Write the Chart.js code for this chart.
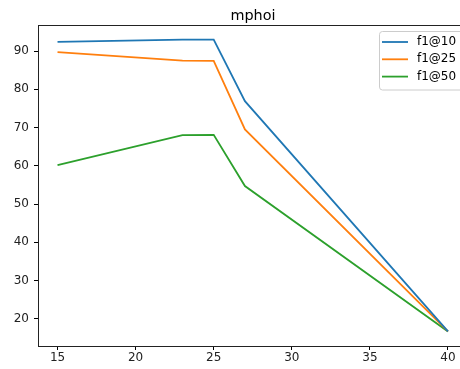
<!DOCTYPE html>
<html>
<head>
<meta charset="utf-8">
<script src="https://cdn.jsdelivr.net/npm/chart.js@4.4.0/dist/chart.umd.min.js"></script>
<style>
html,body{margin:0;padding:0;background:#fff;}
#wrap{width:460px;height:369px;position:relative;}
</style>
</head>
<body>
<div id="wrap"><canvas id="c" width="460" height="369"></canvas></div>
<script>
const title = 'mphoi';
const xValues = [15, 23, 25, 27, 40];
const f1at10 = [92.4, 93.0, 93.0, 76.9, 16.7];
const f1at25 = [89.7, 87.5, 87.4, 69.5, 16.7];
const f1at50 = [60.2, 68.0, 68.1, 54.7, 16.7];
const seriesLabels = ['f1@10', 'f1@25', 'f1@50'];
const xTicks = [15, 20, 25, 30, 35, 40];
const yTicks = [20, 30, 40, 50, 60, 70, 80, 90];

const colors = ['#1f77b4', '#ff7f0e', '#2ca02c'];
const FONT = "'DejaVu Sans', sans-serif";

function pts(ys) { return xValues.map((x, i) => ({x: x, y: ys[i]})); }

const frame = {
  id: 'frame',
  afterDraw(chart) {
    const {ctx, chartArea: a} = chart;
    ctx.save();
    // top spine
    ctx.strokeStyle = '#222';
    ctx.lineWidth = 1;
    ctx.beginPath();
    ctx.moveTo(a.left, Math.round(a.top) + 0.5);
    ctx.lineTo(a.right, Math.round(a.top) + 0.5);
    ctx.stroke();
    // title
    ctx.fillStyle = '#000';
    ctx.font = '14.4px ' + FONT;
    ctx.textAlign = 'center';
    ctx.textBaseline = 'alphabetic';
    ctx.fillText(title, 253, 19.5);
    // legend
    const bx = 379.5, by = 31.5, bw = 90, bh = 58.5, r = 3;
    ctx.fillStyle = 'rgba(255,255,255,0.8)';
    ctx.strokeStyle = '#cccccc';
    ctx.lineWidth = 1;
    ctx.beginPath();
    ctx.moveTo(bx + r, by);
    ctx.lineTo(bx + bw - r, by);
    ctx.arcTo(bx + bw, by, bx + bw, by + r, r);
    ctx.lineTo(bx + bw, by + bh - r);
    ctx.arcTo(bx + bw, by + bh, bx + bw - r, by + bh, r);
    ctx.lineTo(bx + r, by + bh);
    ctx.arcTo(bx, by + bh, bx, by + bh - r, r);
    ctx.lineTo(bx, by + r);
    ctx.arcTo(bx, by, bx + r, by, r);
    ctx.closePath();
    ctx.fill();
    ctx.stroke();
    chart.data.datasets.forEach((ds, i) => {
      const y = 42 + i * 17.3;
      ctx.strokeStyle = ds.borderColor;
      ctx.lineWidth = 1.8;
      ctx.beginPath();
      ctx.moveTo(382, y);
      ctx.lineTo(408, y);
      ctx.stroke();
      ctx.fillStyle = '#000';
      ctx.font = '12px ' + FONT;
      ctx.textAlign = 'left';
      ctx.textBaseline = 'middle';
      ctx.fillText(ds.label, 417, y);
    });
    ctx.restore();
  }
};

new Chart(document.getElementById('c'), {
  type: 'line',
  data: {
    datasets: [f1at10, f1at25, f1at50].map((s, i) => ({
      label: seriesLabels[i],
      data: pts(s),
      borderColor: colors[i],
      backgroundColor: colors[i],
      borderWidth: 1.8,
      pointRadius: 0,
      tension: 0,
      fill: false
    }))
  },
  options: {
    responsive: false,
    animation: false,
    devicePixelRatio: 1,
    layout: {padding: {top: 25, right: 0, left: 0, bottom: 0}},
    plugins: {legend: {display: false}, title: {display: false}, tooltip: {enabled: false}},
    scales: {
      x: {
        type: 'linear',
        min: 13.75,
        max: 40.77,
        afterBuildTicks: (ax) => { ax.ticks = xTicks.map(v => ({value: v})); },
        afterFit: (ax) => { ax.height = 23; },
        grid: {drawOnChartArea: false, drawTicks: true, tickLength: 4, tickColor: '#000', tickWidth: 1},
        border: {display: true, color: '#222', width: 1},
        ticks: {color: '#222', font: {family: FONT, size: 12}, padding: 1, maxRotation: 0, autoSkip: false}
      },
      y: {
        min: 12.9,
        max: 96.8,
        afterBuildTicks: (ax) => { ax.ticks = yTicks.map(v => ({value: v})); },
        afterFit: (ax) => { ax.width = 38; },
        grid: {drawOnChartArea: false, drawTicks: true, tickLength: 4, tickColor: '#000', tickWidth: 1},
        border: {display: true, color: '#222', width: 1},
        ticks: {color: '#222', font: {family: FONT, size: 12}, padding: 5, autoSkip: false}
      }
    }
  },
  plugins: [frame]
});
</script>
</body>
</html>
